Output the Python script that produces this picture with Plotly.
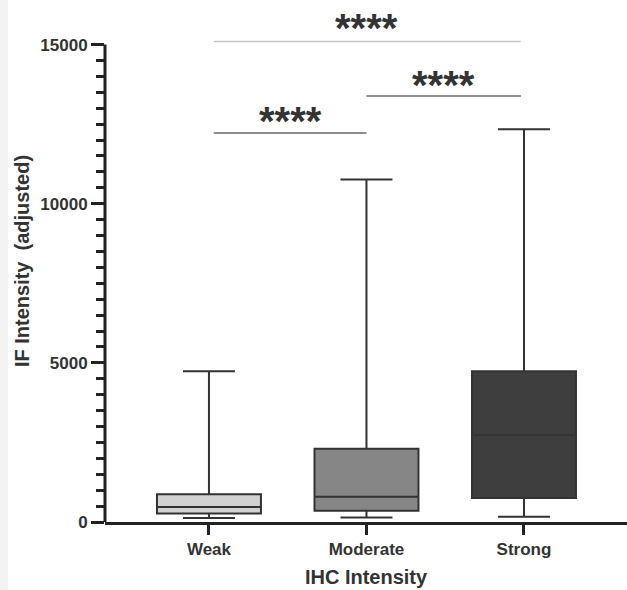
import plotly.graph_objects as go

categories = ["Weak", "Moderate", "Strong"]
q1_vals = [265, 350, 755]
median_vals = [470, 790, 2735]
q3_vals = [870, 2300, 4740]
min_vals = [125, 140, 165]
max_vals = [4740, 10760, 12340]
fill_colors = ["#d2d2d2", "#868686", "#3e3e3e"]

# significance brackets
sig_x0 = [0.03, 1.0, 0.03]
sig_x1 = [1.98, 1.98, 1.0]
sig_y = [15100, 13385, 12220]
sig_label_x = [1.0, 1.49, 0.52]
sig_label_y = [15520, 13745, 12600]
sig_labels = ["****"] * 3
sig_colors = ["#c8c8c8", "#6a6a6a", "#6a6a6a"]

y_major = [0, 5000, 10000, 15000]
y_minor = [v for v in range(500, 15000, 500) if v % 5000 != 0]

FONT = "Liberation Sans, Arial, sans-serif"

fig = go.Figure()
for i, cat in enumerate(categories):
    fig.add_trace(go.Box(
        x=[cat], q1=[q1_vals[i]], median=[median_vals[i]], q3=[q3_vals[i]],
        lowerfence=[min_vals[i]], upperfence=[max_vals[i]],
        fillcolor=fill_colors[i], line=dict(color="#333333", width=2),
        width=0.66, whiskerwidth=0.5, boxpoints=False, showlegend=False,
        hoverinfo="skip",
    ))

shapes = []
shapes.append(dict(type="rect", xref="paper", yref="paper", x0=-105/522, x1=-97/522,
                   y0=-1, y1=2, fillcolor="#f3f3f3", line=dict(width=0), layer="below"))
shapes.append(dict(type="line", xref="paper", yref="y", x0=0, x1=0, y0=-60, y1=15000,
                   line=dict(color="#222222", width=3)))
for i in range(3):
    shapes.append(dict(type="line", xref="x", yref="y", x0=sig_x0[i], x1=sig_x1[i],
                       y0=sig_y[i], y1=sig_y[i], line=dict(color=sig_colors[i], width=1.5)))

annotations = []
for i in range(3):
    annotations.append(dict(x=sig_label_x[i], y=sig_label_y[i], xref="x", yref="y",
                            text=sig_labels[i], showarrow=False, yanchor="middle",
                            font=dict(family=FONT, size=40, color="#333333", weight="bold")))

fig.update_layout(
    width=627, height=590,
    margin=dict(l=105, r=0, t=0, b=68),
    paper_bgcolor="white", plot_bgcolor="white",
    shapes=shapes, annotations=annotations,
    xaxis=dict(
        type="category", range=[-0.66, 2.654], showline=True, linecolor="#222222", linewidth=3,
        ticks="outside", ticklen=10, tickwidth=3, tickcolor="#222222", showgrid=False,
        tickfont=dict(family=FONT, size=17, color="#333333", weight="bold"),
        title=dict(text="IHC Intensity", standoff=12,
                   font=dict(family=FONT, size=20, color="#333333", weight="bold")),
    ),
    yaxis=dict(
        range=[0, 16400], showline=False, zeroline=False, showgrid=False,
        tickmode="array", tickvals=y_major, ticktext=[str(v) for v in y_major],
        ticks="outside", ticklen=13, tickwidth=3, tickcolor="#222222",
        tickfont=dict(family=FONT, size=17, color="#333333", weight="bold"),
        minor=dict(tickmode="array", tickvals=y_minor, ticks="outside", ticklen=8,
                   tickwidth=3, tickcolor="#222222", showgrid=False),
        title=dict(text="IF Intensity  (adjusted)", standoff=5,
                   font=dict(family=FONT, size=20, color="#333333", weight="bold")),
    ),
)

fig.write_html("out.html", config={"displayModeBar": False},
               post_script="document.body.style.margin='0';")
